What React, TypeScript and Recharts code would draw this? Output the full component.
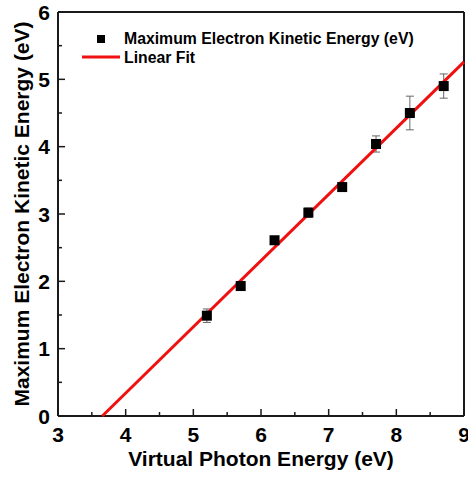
import React from 'react';
import {
  ScatterChart,
  Scatter,
  XAxis,
  YAxis,
  ErrorBar,
} from 'recharts';

const photonEnergy = [5.2, 5.7, 6.2, 6.7, 7.2, 7.7, 8.2, 8.7];
const kineticEnergy = [1.49, 1.93, 2.61, 3.02, 3.4, 4.04, 4.5, 4.9];
const kineticError = [0.1, 0.03, 0.04, 0.07, 0.06, 0.12, 0.25, 0.18];

const fitX = [3.655, 9];
const fitY = [0, 5.26];

const xTicks = [3, 3.5, 4, 4.5, 5, 5.5, 6, 6.5, 7, 7.5, 8, 8.5, 9];
const yTicks = [0, 0.5, 1, 1.5, 2, 2.5, 3, 3.5, 4, 4.5, 5, 5.5, 6];

const FONT = '"Liberation Sans", Arial, sans-serif';
const AXIS = '#1a1a1a';
const RED = '#f01010';

const points = photonEnergy.map((x, i) => ({ x, y: kineticEnergy[i], err: kineticError[i] }));
const fitLine = fitX.map((x, i) => ({ x, y: fitY[i] }));

const tickLen = (v: number) => (Number.isInteger(v) ? 7 : 4);

function BottomTick({ x, y, payload }: any) {
  const v = payload.value;
  return (
    <g>
      <line x1={x} x2={x} y1={y} y2={y - tickLen(v)} stroke={AXIS} strokeWidth={1.5} />
      {Number.isInteger(v) && (
        <text x={x} y={y + 26} textAnchor="middle" fontSize={21} fontWeight="bold" fontFamily={FONT} fill="#000">
          {v}
        </text>
      )}
    </g>
  );
}

function LeftTick({ x, y, payload }: any) {
  const v = payload.value;
  return (
    <g>
      <line x1={x} x2={x + tickLen(v)} y1={y} y2={y} stroke={AXIS} strokeWidth={1.5} />
      {Number.isInteger(v) && (
        <text x={x - 8} y={y + 7.5} textAnchor="end" fontSize={21} fontWeight="bold" fontFamily={FONT} fill="#000">
          {v}
        </text>
      )}
    </g>
  );
}

function TopTick({ x, y, payload }: any) {
  return <line x1={x} x2={x} y1={y} y2={y + tickLen(payload.value)} stroke={AXIS} strokeWidth={1.5} />;
}

function RightTick({ x, y, payload }: any) {
  return <line x1={x} x2={x - tickLen(payload.value)} y1={y} y2={y} stroke={AXIS} strokeWidth={1.5} />;
}

function SquareDot({ cx, cy }: any) {
  return <rect x={cx - 5} y={cy - 5} width={10} height={10} fill="#000" />;
}

function FitLegend() {
  return (
    <svg width={380} height={44} style={{ position: 'absolute', left: 78, top: 24 }}>
      <rect x={19} y={11} width={8} height={8} fill="#000" />
      <text x={46} y={20} fontSize={15.8} fontWeight="bold" fontFamily={FONT} fill="#000">
        Maximum Electron Kinetic Energy (eV)
      </text>
      <line x1={4} x2={42} y1={33} y2={33} stroke={RED} strokeWidth={3} />
      <text x={46} y={39} fontSize={15.8} fontWeight="bold" fontFamily={FONT} fill="#000">
        Linear Fit
      </text>
    </svg>
  );
}

export default function App() {
  return (
    <div style={{ position: 'fixed', left: 0, top: 0, width: 468, height: 478, background: '#fff' }}>
      <ScatterChart width={468} height={478} margin={{ top: 2, right: 0, bottom: 0, left: 0 }}>
        <XAxis
          xAxisId="bottom"
          type="number"
          dataKey="x"
          domain={[3, 9]}
          ticks={xTicks}
          interval={0}
          height={62}
          tickSize={0}
          tickMargin={0}
          tickLine={false}
          axisLine={{ stroke: AXIS, strokeWidth: 2 }}
          tick={<BottomTick />}
          label={{
            value: 'Virtual Photon Energy (eV)',
            position: 'insideBottom',
            offset: 12,
            style: { fontSize: 21, fontWeight: 'bold', fontFamily: FONT, fill: '#000' },
          }}
        />
        <XAxis
          xAxisId="top"
          orientation="top"
          type="number"
          dataKey="x"
          domain={[3, 9]}
          ticks={xTicks}
          interval={0}
          height={10}
          tickSize={0}
          tickMargin={0}
          tickLine={false}
          axisLine={{ stroke: AXIS, strokeWidth: 2 }}
          tick={<TopTick />}
        />
        <YAxis
          yAxisId="left"
          type="number"
          dataKey="y"
          domain={[0, 6]}
          ticks={yTicks}
          interval={0}
          width={58}
          tickSize={0}
          tickMargin={0}
          tickLine={false}
          axisLine={{ stroke: AXIS, strokeWidth: 2 }}
          tick={<LeftTick />}
          label={{
            value: 'Maximum Electron Kinetic Energy (eV)',
            angle: -90,
            position: 'insideLeft',
            offset: 22,
            style: { textAnchor: 'middle', fontSize: 21, fontWeight: 'bold', fontFamily: FONT, fill: '#000' },
          }}
        />
        <YAxis
          yAxisId="right"
          orientation="right"
          type="number"
          dataKey="y"
          domain={[0, 6]}
          ticks={yTicks}
          interval={0}
          width={4}
          tickSize={0}
          tickMargin={0}
          tickLine={false}
          axisLine={{ stroke: AXIS, strokeWidth: 2 }}
          tick={<RightTick />}
        />
        <Scatter
          name="Linear Fit"
          data={fitLine}
          xAxisId="bottom"
          yAxisId="left"
          line={{ stroke: RED, strokeWidth: 3 }}
          shape={() => <g />}
          isAnimationActive={false}
        />
        <Scatter
          name="Maximum Electron Kinetic Energy (eV)"
          data={points}
          xAxisId="bottom"
          yAxisId="left"
          shape={<SquareDot />}
          isAnimationActive={false}
        >
          <ErrorBar dataKey="err" direction="y" width={4} stroke="#666" strokeWidth={1} />
        </Scatter>
      </ScatterChart>
      <FitLegend />
    </div>
  );
}
